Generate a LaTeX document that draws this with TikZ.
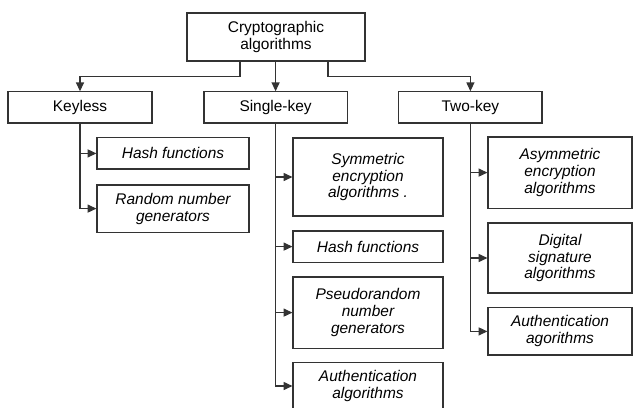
\documentclass[tikz,border=0pt]{standalone}
\usepackage{fontspec}
\setmainfont{Liberation Sans}
\usetikzlibrary{arrows.meta}

\tikzset{
	box/.style={draw=black!80, line width=0.8pt, align=center, inner sep=0pt,
		font=\fontsize{11}{12}\selectfont},
	leaf/.style={box, font=\fontsize{11}{12}\selectfont\itshape},
	arr/.style={draw=black!80, line width=0.8pt, -{Triangle[length=2.2mm,width=2mm]}}
}

\begin{document}
\begin{tikzpicture}
	\useasboundingbox (0,0) rectangle (15.875,10.175);
	
	% top level
	\node[box, minimum width=4.45cm, minimum height=1.2cm] (root) at (6.9,9.25) {Cryptographic\\algorithms};
	
	\node[box, minimum width=3.6cm, minimum height=0.78cm] (keyless) at (2.0,7.49) {Keyless};
	\node[box, minimum width=3.58cm, minimum height=0.78cm] (single) at (6.89,7.49) {Single-key};
	\node[box, minimum width=3.58cm, minimum height=0.78cm] (two) at (11.76,7.49) {Two-key};
	
	\draw[arr] ([xshift=-0.9cm]root.south) -- ++(0,-0.375) -| (keyless.north);
	\draw[arr] (root.south -| single.north) -- (single.north);
	\draw[arr] ([xshift=1.3cm]root.south) -- ++(0,-0.375) -| (two.north);
	
	% keyless
	\node[leaf, minimum width=3.8cm, minimum height=0.78cm] (hashA) at (4.325,6.34) {Hash functions};
	\node[leaf, minimum width=3.8cm, minimum height=1.18cm] (random) at (4.325,4.96) {Random number\\generators};
	
	\draw[arr] (keyless.south) |- (hashA.west);
	\draw[arr] (keyless.south) |- (random.west);
	
	% single-key
	\node[leaf, minimum width=3.75cm, minimum height=1.95cm] (sym) at (9.2,5.75) {Symmetric\\encryption\\algorithms .};
	\node[leaf, minimum width=3.75cm, minimum height=0.78cm] (hashB) at (9.2,4.01) {Hash functions};
	\node[leaf, minimum width=3.75cm, minimum height=1.78cm] (pseudo) at (9.2,2.36) {Pseudorandom\\number\\generators};
	\node[leaf, minimum width=3.75cm, minimum height=1.18cm] (authA) at (9.2,0.525) {Authentication\\algorithms};
	
	\draw[arr] (single.south) |- (sym.west);
	\draw[arr] (single.south) |- (hashB.west);
	\draw[arr] (single.south) |- (pseudo.west);
	\draw[arr] (single.south) |- (authA.west);
	
	% two-key
	\node[leaf, minimum width=3.6cm, minimum height=1.78cm] (asym) at (14.0,5.86) {Asymmetric\\encryption\\algorithms};
	\node[leaf, minimum width=3.6cm, minimum height=1.75cm] (digital) at (14.0,3.725) {Digital\\signature\\algorithms};
	\node[leaf, minimum width=3.6cm, minimum height=1.18cm] (authB) at (14.0,1.89) {Authentication\\agorithms};
	
	\draw[arr] (two.south) |- (asym.west);
	\draw[arr] (two.south) |- (digital.west);
	\draw[arr] (two.south) |- (authB.west);
\end{tikzpicture}
\end{document}
